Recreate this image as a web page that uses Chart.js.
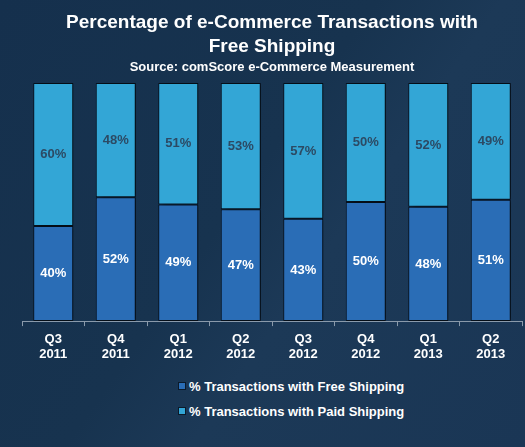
<!DOCTYPE html>
<html><head><meta charset="utf-8">
<script src="https://cdn.jsdelivr.net/npm/chart.js@4"></script>
<style>
html,body{margin:0;padding:0;}
body{width:525px;height:447px;overflow:hidden;position:relative;
background:linear-gradient(125deg,#15304d 0%,#17334f 45%,#1c3957 60%,#1a3655 100%);
font-family:"Liberation Sans",Arial,sans-serif;}
#wrap{position:absolute;left:0;top:0;width:525px;height:368px;}
#legend{position:absolute;left:178px;top:378px;color:#fff;font-weight:bold;font-size:13px;}
.li{height:25px;line-height:18px;white-space:nowrap;}
.sw{display:inline-block;width:6px;height:6px;border:1px solid #0b1a2a;margin-right:3px;vertical-align:1px;}
</style></head>
<body>
<div id="wrap"><canvas id="c"></canvas></div>
<div id="legend"></div>
<script>
const categories = [["Q3","2011"],["Q4","2011"],["Q1","2012"],["Q2","2012"],["Q3","2012"],["Q4","2012"],["Q1","2013"],["Q2","2013"]];
const freeShipping = [40,52,49,47,43,50,48,51];
const paidShipping = [60,48,51,53,57,50,52,49];
const seriesNames = ["% Transactions with Free Shipping","% Transactions with Paid Shipping"];
const titleLines = ["Percentage of e-Commerce Transactions with","Free Shipping"];
const subtitleText = "Source: comScore e-Commerce Measurement";

const colFree = "#2a6db6", colPaid = "#33a6d6";

const shadowPlugin = {
  id:'shadow',
  beforeDatasetsDraw(chart){ const c=chart.ctx; c.save(); c.shadowColor='rgba(0,0,0,0.55)'; c.shadowOffsetX=5; c.shadowOffsetY=0; c.shadowBlur=4; },
  afterDatasetsDraw(chart){ chart.ctx.restore(); }
};
const labelPlugin = {
  id:'labels',
  afterDatasetsDraw(chart){
    const c=chart.ctx; c.save();
    c.font='bold 13px "Liberation Sans", Arial, sans-serif';
    c.textAlign='center'; c.textBaseline='middle';
    chart.data.datasets.forEach((ds,i)=>{
      const meta=chart.getDatasetMeta(i);
      c.fillStyle = i===0 ? '#ffffff' : '#2c4a64';
      meta.data.forEach((bar,j)=>{
        const y=(bar.y+bar.base)/2;
        c.fillText(ds.data[j]+'%', bar.x, y);
      });
    });
    c.restore();
  }
};

new Chart(document.getElementById('c'),{
  type:'bar',
  data:{labels:categories,datasets:[
    {label:seriesNames[0],data:freeShipping,backgroundColor:colFree,borderColor:'#06111d',borderWidth:1,borderSkipped:false},
    {label:seriesNames[1],data:paidShipping,backgroundColor:colPaid,borderColor:'#06111d',borderWidth:1,borderSkipped:false}
  ]},
  options:{
    responsive:true,maintainAspectRatio:false,animation:false,
    layout:{padding:{left:22,right:3,top:0,bottom:0}},
    datasets:{bar:{categoryPercentage:1,barPercentage:0.64}},
    plugins:{
      legend:{display:false},tooltip:{enabled:false},
      title:{display:true,text:titleLines,color:'#ffffff',font:{family:'"Liberation Sans", Arial',size:19,weight:'bold',lineHeight:1.25},padding:{top:11,bottom:0}},
      subtitle:{display:true,text:subtitleText,color:'#ffffff',font:{family:'"Liberation Sans", Arial',size:13,weight:'bold'},padding:{top:1,bottom:8}}
    },
    scales:{
      x:{stacked:true,
        grid:{display:true,drawOnChartArea:false,drawTicks:true,tickLength:5,color:'#8a9aab',offset:true},
        border:{display:true,color:'#8a9aab',width:1},
        ticks:{color:'#ffffff',font:{family:'"Liberation Sans", Arial',size:13,weight:'bold',lineHeight:1.15},padding:6,maxRotation:0,autoSkip:false}
      },
      y:{stacked:true,display:false,min:0,max:100}
    }
  },
  plugins:[shadowPlugin,labelPlugin]
});

const lg=document.getElementById('legend');
[colFree,colPaid].forEach((col,i)=>{
  const d=document.createElement('div'); d.className='li';
  d.innerHTML='<span class="sw" style="background:'+col+'"></span>'+seriesNames[i];
  lg.appendChild(d);
});
</script>
</body></html>
